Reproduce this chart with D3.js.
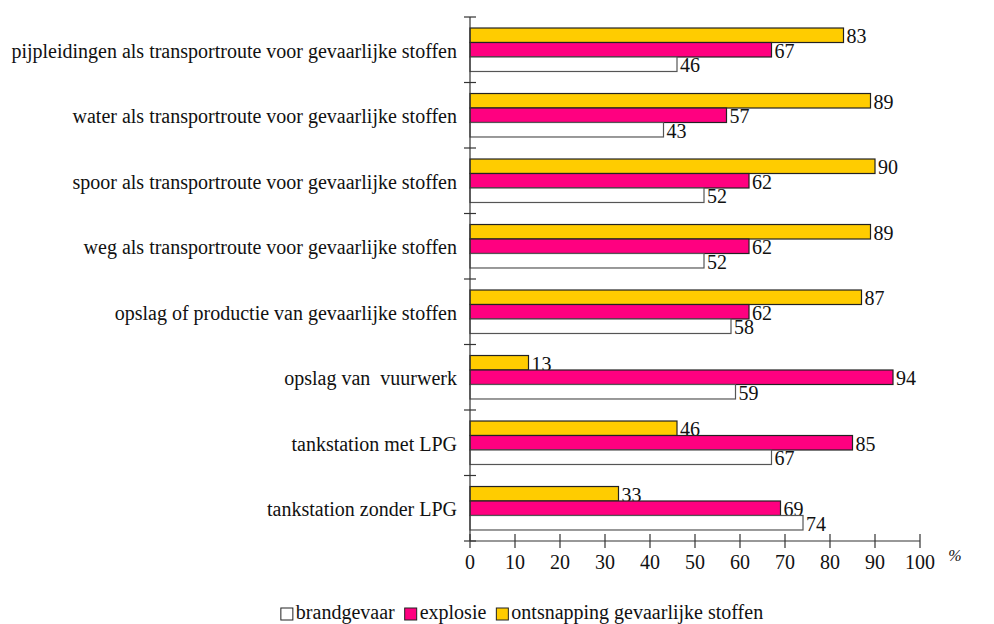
<!DOCTYPE html>
<html><head><meta charset="utf-8">
<script src="https://cdn.jsdelivr.net/npm/d3@7"></script>
<style>body{margin:0;background:#fff}svg{display:block}</style>
</head><body><svg id="c" width="994" height="624"></svg>
<script>
const categories = ["pijpleidingen als transportroute voor gevaarlijke stoffen","water als transportroute voor gevaarlijke stoffen","spoor als transportroute voor gevaarlijke stoffen","weg als transportroute voor gevaarlijke stoffen","opslag of productie van gevaarlijke stoffen","opslag van  vuurwerk","tankstation met LPG","tankstation zonder LPG"];
const seriesNames = ["ontsnapping gevaarlijke stoffen","explosie","brandgevaar"];
const ontsnapping = [83,89,90,89,87,13,46,33];
const explosie = [67,57,62,62,62,94,85,69];
const brandgevaar = [46,43,52,52,58,59,67,74];
const xTicks = [0,10,20,30,40,50,60,70,80,90,100];
const legendOrder = ["brandgevaar","explosie","ontsnapping gevaarlijke stoffen"];
const colors = {"brandgevaar":"#ffffff","explosie":"#ff0080","ontsnapping gevaarlijke stoffen":"#ffcc00"};
const seriesValues = {"ontsnapping gevaarlijke stoffen":ontsnapping,"explosie":explosie,"brandgevaar":brandgevaar};
const FONT = '"Liberation Serif"';
const FS = 20;

const svg = d3.select("#c");
const x = d3.scaleLinear().domain([0,100]).range([470,920]);
const y = d3.scaleBand().domain(categories).range([17,541]).paddingInner(0).paddingOuter(0);
const yi = d3.scaleBand().domain(seriesNames).range([0,y.bandwidth()]).paddingInner(0).paddingOuter(0.76);
function txt(sel){ return sel.style("font-family",FONT).style("fill","#111"); }

const g = svg.append("g");
categories.forEach((c,i)=>{
  const gg = g.append("g").attr("transform",`translate(0,${y(c)})`);
  seriesNames.forEach(s=>{
    const v = seriesValues[s][i];
    gg.append("rect").attr("x",x(0)).attr("y",yi(s)).attr("width",x(v)-x(0)).attr("height",yi.bandwidth())
      .attr("fill",colors[s]).attr("stroke", s==="brandgevaar"?"#555":"#222").attr("stroke-width",1.2);
    txt(gg.append("text")).attr("x",x(v)+3).attr("y",yi(s)+yi.bandwidth()/2+1).attr("dy","0.35em")
      .attr("font-size",FS).text(v);
  });
});

txt(svg.append("g").selectAll("text").data(categories).join("text"))
  .attr("x",457).attr("y",d=>y(d)+y.bandwidth()/2+1).attr("dy","0.35em").attr("text-anchor","end")
  .attr("font-size",FS).style("white-space","pre").text(d=>d);

const ya = svg.append("g");
ya.append("line").attr("x1",x(0)).attr("x2",x(0)).attr("y1",17).attr("y2",541).attr("stroke","#333").attr("stroke-width",1.2);
const bounds = categories.map(c=>y(c)).concat([541]);
ya.selectAll("line.t").data(bounds).join("line").attr("class","t")
  .attr("x1",x(0)-6).attr("x2",x(0)+6).attr("y1",d=>d).attr("y2",d=>d).attr("stroke","#333").attr("stroke-width",1.2);

const xa = svg.append("g");
xa.append("line").attr("x1",x(0)).attr("x2",x(100)).attr("y1",541).attr("y2",541).attr("stroke","#333").attr("stroke-width",1.2);
xa.selectAll("line.t").data(xTicks).join("line").attr("class","t")
  .attr("x1",d=>x(d)).attr("x2",d=>x(d)).attr("y1",534).attr("y2",548).attr("stroke","#333").attr("stroke-width",1.2);
txt(xa.selectAll("text").data(xTicks).join("text")).attr("x",d=>x(d)).attr("y",562).attr("dy","0.35em")
  .attr("text-anchor","middle").attr("font-size",FS).text(d=>d);
txt(svg.append("text")).attr("x",955).attr("y",555).attr("dy","0.35em").attr("text-anchor","middle")
  .attr("font-size",16).attr("font-style","italic").text("%");

const lg = svg.append("g");
let lx = 0;
legendOrder.forEach(s=>{
  lg.append("rect").attr("x",lx).attr("y",608).attr("width",12).attr("height",12).attr("fill",colors[s]).attr("stroke","#222").attr("stroke-width",1);
  const t = txt(lg.append("text")).attr("x",lx+15).attr("y",619).attr("font-size",FS).text(s);
  lx += 15 + t.node().getComputedTextLength() + 10;
});
lg.attr("transform",`translate(${522 - (lx-10)/2},0)`);
</script></body></html>
